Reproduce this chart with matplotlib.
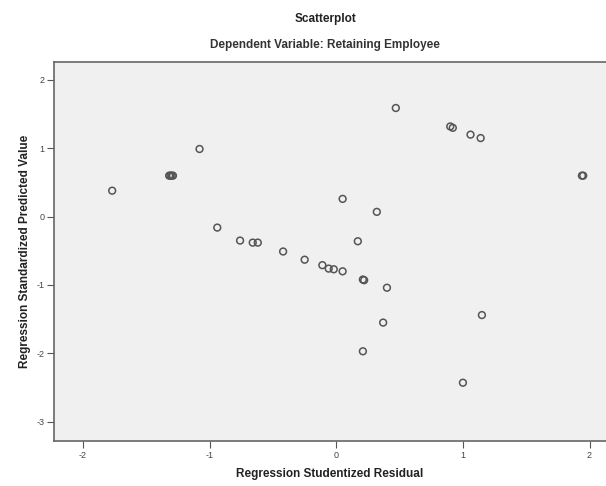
import matplotlib
matplotlib.use("Agg")
import matplotlib.pyplot as plt

plt.rcParams['font.family'] = ['Liberation Sans', 'DejaVu Sans']
plt.rcParams['axes.unicode_minus'] = False

# studentized residual vs standardized predicted value
resid = [-1.77, -1.32, -1.31, -1.30, -1.29, -1.08, -0.94, -0.76, -0.66, -0.62,
         -0.42, -0.25, -0.11, -0.06, -0.02, 0.05, 0.21, 0.22, 0.40, 0.37,
         0.21, 1.15, 1.00, 0.32, 0.17, 0.05, 0.47, 0.90, 0.92, 1.06,
         1.14, 1.94, 1.95]
pred = [0.38, 0.60, 0.60, 0.60, 0.60, 0.99, -0.16, -0.35, -0.38, -0.38,
        -0.51, -0.63, -0.71, -0.76, -0.77, -0.80, -0.92, -0.93, -1.04, -1.55,
        -1.97, -1.44, -2.43, 0.07, -0.36, 0.26, 1.59, 1.32, 1.30, 1.20,
        1.15, 0.60, 0.60]
xticks = [-2, -1, 0, 1, 2]
yticks = [-3, -2, -1, 0, 1, 2]

fig = plt.figure(figsize=(6.06, 4.86), dpi=100)
ax = fig.add_axes([0.089, 0.093, 0.911, 0.779])
ax.set_facecolor('#f0f0f0')

ax.scatter(resid, pred, s=24, facecolors='none', edgecolors='#555555', linewidths=1.1)

ax.set_xlim(-2.23, 2.13)
ax.set_ylim(-3.28, 2.26)
ax.set_xticks(xticks)
ax.set_yticks(yticks)
ax.tick_params(length=5, width=0.8, color='#555555', labelsize=6.5, labelcolor='#444444', pad=2)
for s in ['left', 'bottom', 'top']:
    ax.spines[s].set_color('#666666')
    ax.spines[s].set_linewidth(1.2)
ax.spines['right'].set_visible(False)

ax.set_xlabel('Regression Studentized Residual', fontsize=8.5, fontweight='bold', color='#222222', labelpad=6)
ax.set_ylabel('Regression Standardized Predicted Value', fontsize=8.5, fontweight='bold', color='#222222', labelpad=4)

fig.text(0.537, 0.961, 'Scatterplot', ha='center', va='center', fontsize=8.5, fontweight='bold', color='#222222')
fig.text(0.537, 0.907, 'Dependent Variable: Retaining Employee', ha='center', va='center', fontsize=8.5, fontweight='bold', color='#333333')

fig.savefig('out.png', dpi=100)
